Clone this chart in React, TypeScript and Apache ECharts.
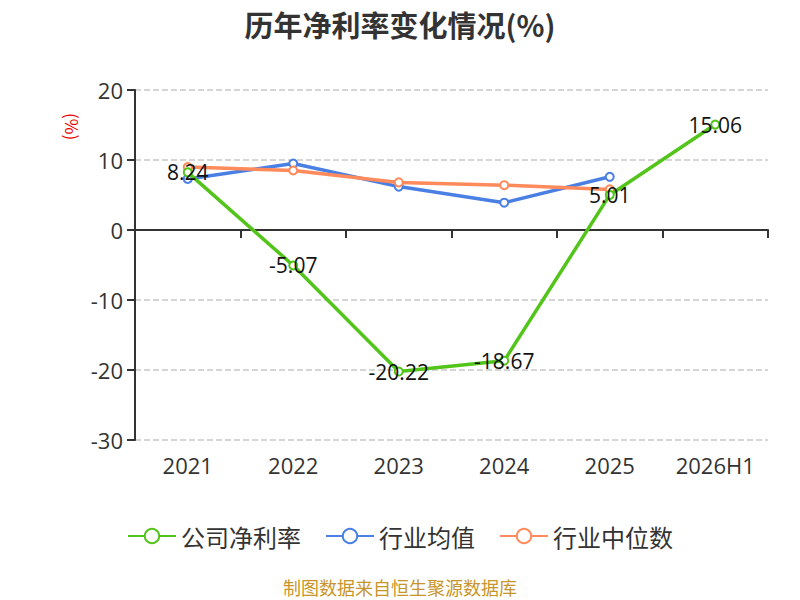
import { useEffect, useRef } from 'react'
import * as echarts from 'echarts'

const YEARS = ['2021', '2022', '2023', '2024', '2025', '2026H1']
const COMPANY = [8.24, -5.07, -20.22, -18.67, 5.01, 15.06]
const INDUSTRY_AVG = [7.3, 9.5, 6.2, 3.9, 7.6, null]
const INDUSTRY_MEDIAN = [9.0, 8.5, 6.8, 6.4, 5.8, null]

const FONT = '"Noto Sans CJK SC", "Noto Sans", sans-serif'
const NUM_FONT = '"Open Sans", "Noto Sans CJK SC", sans-serif'

export default function App() {
  const chartRef = useRef<HTMLDivElement>(null)

  useEffect(() => {
    if (!chartRef.current) return
    const chart = echarts.init(chartRef.current, undefined, { renderer: 'svg' })

    const lineSeries = (name: string, data: (number | null)[], color: string, z: number, label: boolean) => ({
      name,
      type: 'line' as const,
      data,
      z,
      symbol: 'emptyCircle',
      symbolSize: 8,
      lineStyle: { color, width: 3.5 },
      itemStyle: { color, borderWidth: 1.5 },
      label: {
        show: label,
        position: 'inside' as const,
        color: '#111',
        fontSize: 21,
        fontFamily: NUM_FONT,
      },
    })

    chart.setOption({
      animation: false,
      title: {
        text: '历年净利率变化情况(%)',
        left: 'center',
        top: 4,
        textStyle: { fontSize: 29, fontWeight: 'bold', color: '#333', fontFamily: FONT },
      },
      graphic: [
        {
          type: 'text',
          x: 81,
          y: 113,
          rotation: -Math.PI / 2,
          style: { text: '(%)', fill: '#e00', fontSize: 17, fontFamily: FONT },
        },
        {
          type: 'text',
          left: 'center',
          top: 578,
          style: { text: '制图数据来自恒生聚源数据库', fill: '#c8952a', fontSize: 18, fontFamily: FONT },
        },
      ],
      legend: {
        top: 519,
        left: 'center',
        itemWidth: 48,
        itemHeight: 18,
        itemGap: 24,
        textStyle: { fontSize: 24, color: '#333', fontFamily: FONT },
        data: ['公司净利率', '行业均值', '行业中位数'],
      },
      grid: { left: 135, right: 32, top: 90, bottom: 160 },
      xAxis: {
        type: 'category',
        data: YEARS,
        axisLine: { lineStyle: { color: '#333', width: 2 } },
        axisTick: { show: true, length: 8, lineStyle: { color: '#333', width: 2 } },
        axisLabel: { fontSize: 22, color: '#333', margin: 14, fontFamily: NUM_FONT },
      },
      yAxis: {
        type: 'value',
        min: -30,
        max: 20,
        interval: 10,
        axisLine: { show: true, lineStyle: { color: '#333', width: 2 } },
        axisTick: { show: true, length: 8, lineStyle: { color: '#333', width: 2 } },
        axisLabel: { fontSize: 22, color: '#333', margin: 12, fontFamily: NUM_FONT },
        splitLine: { lineStyle: { type: 'dashed', color: '#c8c8c8', width: 1.5 } },
      },
      series: [
        lineSeries('公司净利率', COMPANY, '#52c41a', 3, true),
        lineSeries('行业均值', INDUSTRY_AVG, '#4a7fe3', 2, false),
        lineSeries('行业中位数', INDUSTRY_MEDIAN, '#ff8a5b', 2, false),
      ],
    })

    return () => chart.dispose()
  }, [])

  return <div ref={chartRef} style={{ position: 'absolute', left: 0, top: 0, width: 800, height: 600 }} />
}
